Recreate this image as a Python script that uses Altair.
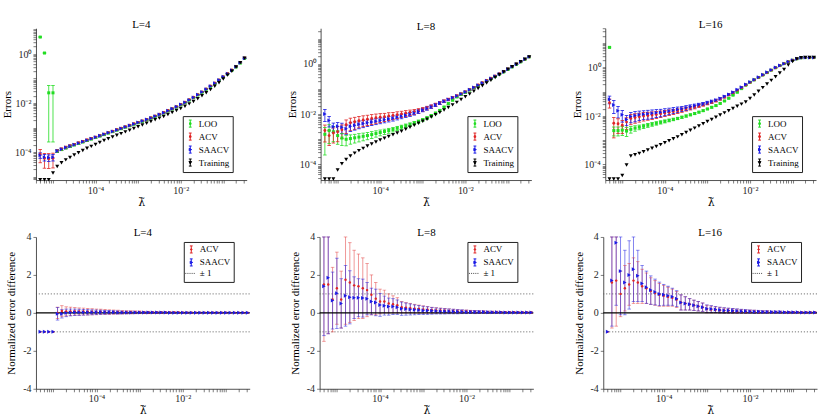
import altair as alt
import pandas as pd

FONT = "Liberation Serif"

# lambda grid (log10 of lambda-tilde)
LAM_EXP = [-5.3, -5.2, -5.1, -5.0, -4.9, -4.8, -4.7, -4.6, -4.5, -4.4,
           -4.3, -4.2, -4.1, -4.0, -3.9, -3.8, -3.7, -3.6, -3.5, -3.4,
           -3.3, -3.2, -3.1, -3.0, -2.9, -2.8, -2.7, -2.6, -2.5, -2.4,
           -2.3, -2.2, -2.1, -2.0, -1.9, -1.8, -1.7, -1.6, -1.5, -1.4,
           -1.3, -1.2, -1.1, -1.0, -0.9, -0.8, -0.7, -0.6, -0.5]

# ---------------- top row: log10(error) ----------------
T4_TRAIN = [-5.12, -5.12, -5.12, -4.84, -4.58, -4.43, -4.31, -4.21, -4.11, -4.02,
            -3.93, -3.84, -3.76, -3.68, -3.60, -3.52, -3.45, -3.38, -3.31, -3.24,
            -3.17, -3.10, -3.03, -2.96, -2.89, -2.82, -2.75, -2.68, -2.61, -2.54,
            -2.46, -2.38, -2.30, -2.22, -2.13, -2.03, -1.93, -1.82, -1.70, -1.58,
            -1.45, -1.31, -1.17, -1.02, -0.86, -0.70, -0.53, -0.35, -0.17]
T4_SAACV = [-4.12, -4.20, -4.22, -4.20, -3.95, -3.88, -3.81, -3.75, -3.69, -3.63,
            -3.57, -3.51, -3.45, -3.39, -3.33, -3.27, -3.21, -3.15, -3.09, -3.03,
            -2.97, -2.91, -2.85, -2.79, -2.73, -2.67, -2.60, -2.53, -2.46, -2.39,
            -2.31, -2.23, -2.15, -2.06, -1.97, -1.87, -1.77, -1.66, -1.55, -1.43,
            -1.31, -1.19, -1.06, -0.93, -0.80, -0.66, -0.52, -0.36, -0.17]
T4_ACV = [-4.08, -4.25, -4.26, -4.24, -3.94, -3.87, -3.80, -3.74, -3.68, -3.62,
          -3.56, -3.50, -3.44, -3.38, -3.32, -3.26, -3.20, -3.14, -3.08, -3.02,
          -2.96, -2.90, -2.84, -2.78, -2.72, -2.66, -2.59, -2.52, -2.45, -2.38,
          -2.30, -2.22, -2.14, -2.05, -1.96, -1.86, -1.76, -1.65, -1.54, -1.42,
          -1.30, -1.18, -1.05, -0.92, -0.79, -0.65, -0.51, -0.35, -0.16]
T4_LOO = [0.69, 0.04, -1.58, -1.58, -3.96, -3.89, -3.82, -3.76, -3.70, -3.64,
          -3.58, -3.52, -3.46, -3.40, -3.34, -3.28, -3.22, -3.16, -3.10, -3.04,
          -2.98, -2.92, -2.86, -2.80, -2.74, -2.68, -2.61, -2.54, -2.47, -2.40,
          -2.32, -2.24, -2.16, -2.07, -1.98, -1.88, -1.78, -1.67, -1.56, -1.44,
          -1.32, -1.20, -1.07, -0.94, -0.81, -0.67, -0.53, -0.37, -0.18]
T4_SAACV_R = [0.25, 0.30, 0.30, 0.30, 0.12, 0.10, 0.10, 0.10, 0.09, 0.09,
              0.08, 0.08, 0.08, 0.08, 0.08, 0.07, 0.07, 0.07, 0.07, 0.07,
              0.06, 0.06, 0.06, 0.06, 0.06, 0.06, 0.05, 0.05, 0.05, 0.05,
              0.05, 0.05, 0.05, 0.05, 0.04, 0.04, 0.04, 0.04, 0.04, 0.04,
              0.04, 0.04, 0.04, 0.03, 0.03, 0.03, 0.03, 0.03, 0.03]
T4_ACV_R = [0.55, 0.60, 0.60, 0.60, 0.14, 0.12, 0.12, 0.11, 0.10, 0.10,
            0.09, 0.09, 0.09, 0.08, 0.08, 0.08, 0.07, 0.07, 0.07, 0.07,
            0.06, 0.06, 0.06, 0.06, 0.06, 0.06, 0.05, 0.05, 0.05, 0.05,
            0.05, 0.05, 0.05, 0.05, 0.04, 0.04, 0.04, 0.04, 0.04, 0.04,
            0.04, 0.04, 0.04, 0.03, 0.03, 0.03, 0.03, 0.03, 0.03]
T4_LOO_R = [0.05, 0.05, 0.99, 0.99, 0.10, 0.09, 0.09, 0.09, 0.08, 0.08,
            0.08, 0.08, 0.07, 0.07, 0.07, 0.07, 0.06, 0.06, 0.06, 0.06,
            0.06, 0.05, 0.05, 0.05, 0.05, 0.05, 0.05, 0.05, 0.04, 0.04,
            0.04, 0.04, 0.04, 0.04, 0.04, 0.04, 0.03, 0.03, 0.03, 0.03,
            0.03, 0.03, 0.03, 0.03, 0.03, 0.03, 0.03, 0.03, 0.03]

T8_TRAIN = [-4.58, -4.58, -4.58, -4.22, -3.97, -3.80, -3.66, -3.55, -3.45, -3.36,
            -3.27, -3.19, -3.11, -3.03, -2.96, -2.89, -2.82, -2.75, -2.68, -2.60,
            -2.52, -2.44, -2.36, -2.28, -2.20, -2.11, -2.02, -1.93, -1.83, -1.73,
            -1.63, -1.53, -1.42, -1.31, -1.20, -1.09, -0.98, -0.87, -0.76, -0.65,
            -0.54, -0.43, -0.32, -0.21, -0.11, -0.01, 0.09, 0.19, 0.28]
T8_SAACV = [-1.99, -2.25, -2.50, -2.48, -2.52, -2.58, -2.48, -2.44, -2.40, -2.37,
            -2.34, -2.31, -2.28, -2.25, -2.22, -2.19, -2.16, -2.12, -2.08, -2.04,
            -2.00, -1.95, -1.89, -1.83, -1.77, -1.70, -1.63, -1.56, -1.49, -1.42,
            -1.35, -1.28, -1.20, -1.12, -1.03, -0.94, -0.85, -0.76, -0.67, -0.58,
            -0.49, -0.40, -0.31, -0.21, -0.11, -0.01, 0.09, 0.19, 0.28]
T8_ACV = [-2.65, -2.85, -2.75, -2.70, -2.62, -2.42, -2.34, -2.30, -2.26, -2.23,
          -2.20, -2.17, -2.14, -2.12, -2.10, -2.07, -2.05, -2.02, -1.99, -1.96,
          -1.93, -1.90, -1.86, -1.81, -1.75, -1.69, -1.62, -1.55, -1.48, -1.41,
          -1.34, -1.27, -1.19, -1.11, -1.02, -0.93, -0.84, -0.75, -0.66, -0.57,
          -0.48, -0.39, -0.30, -0.20, -0.10, 0.00, 0.10, 0.19, 0.28]
T8_LOO = [-2.80, -2.65, -2.70, -2.85, -2.95, -3.00, -2.97, -2.94, -2.91, -2.88,
          -2.85, -2.81, -2.77, -2.73, -2.69, -2.65, -2.61, -2.56, -2.51, -2.46,
          -2.41, -2.35, -2.29, -2.22, -2.15, -2.06, -1.96, -1.85, -1.72, -1.58,
          -1.44, -1.31, -1.21, -1.13, -1.04, -0.95, -0.86, -0.77, -0.68, -0.59,
          -0.50, -0.41, -0.32, -0.22, -0.12, -0.02, 0.08, 0.18, 0.28]
T8_SAACV_R = [0.50, 0.45, 0.40, 0.40, 0.45, 0.40, 0.38, 0.36, 0.34, 0.32,
              0.30, 0.28, 0.27, 0.26, 0.25, 0.24, 0.23, 0.22, 0.21, 0.20,
              0.19, 0.18, 0.17, 0.16, 0.15, 0.14, 0.13, 0.12, 0.11, 0.10,
              0.09, 0.09, 0.08, 0.08, 0.07, 0.07, 0.06, 0.06, 0.05, 0.05,
              0.05, 0.04, 0.04, 0.04, 0.04, 0.03, 0.03, 0.03, 0.03]
T8_ACV_R = [0.65, 0.60, 0.60, 0.60, 0.55, 0.55, 0.52, 0.50, 0.48, 0.46,
            0.44, 0.42, 0.40, 0.38, 0.36, 0.34, 0.32, 0.30, 0.28, 0.26,
            0.24, 0.22, 0.20, 0.18, 0.16, 0.15, 0.14, 0.13, 0.12, 0.11,
            0.10, 0.09, 0.09, 0.08, 0.08, 0.07, 0.07, 0.06, 0.06, 0.05,
            0.05, 0.05, 0.04, 0.04, 0.04, 0.03, 0.03, 0.03, 0.03]
T8_LOO_R = [0.85, 0.70, 0.60, 0.55, 0.50, 0.45, 0.40, 0.38, 0.36, 0.34,
            0.32, 0.30, 0.28, 0.26, 0.24, 0.22, 0.20, 0.19, 0.18, 0.17,
            0.16, 0.15, 0.14, 0.13, 0.12, 0.11, 0.10, 0.10, 0.09, 0.09,
            0.08, 0.08, 0.07, 0.07, 0.06, 0.06, 0.06, 0.05, 0.05, 0.05,
            0.04, 0.04, 0.04, 0.04, 0.03, 0.03, 0.03, 0.03, 0.03]

T16_TRAIN = [-4.60, -4.60, -4.60, -4.45, -4.02, -3.65, -3.60, -3.54, -3.47, -3.40,
             -3.33, -3.26, -3.18, -3.10, -3.02, -2.94, -2.86, -2.77, -2.68, -2.59,
             -2.50, -2.41, -2.32, -2.23, -2.14, -2.05, -1.96, -1.87, -1.78, -1.69,
             -1.60, -1.51, -1.42, -1.28, -1.13, -0.98, -0.83, -0.68, -0.53, -0.38,
             -0.23, -0.08, 0.10, 0.25, 0.35, 0.40, 0.41, 0.41, 0.41]
T16_SAACV = [-1.31, -1.55, -1.78, -1.95, -2.14, -2.02, -1.98, -1.95, -1.93, -1.91,
             -1.89, -1.87, -1.85, -1.82, -1.79, -1.76, -1.73, -1.70, -1.66, -1.62,
             -1.58, -1.54, -1.50, -1.45, -1.40, -1.35, -1.28, -1.20, -1.11, -1.02,
             -0.92, -0.81, -0.70, -0.60, -0.50, -0.40, -0.30, -0.20, -0.10, 0.00,
             0.08, 0.16, 0.24, 0.30, 0.36, 0.40, 0.41, 0.41, 0.41]
T16_ACV = [-1.45, -2.30, -2.32, -2.38, -2.25, -2.10, -2.06, -2.03, -2.00, -1.98,
           -1.96, -1.94, -1.91, -1.88, -1.85, -1.82, -1.79, -1.75, -1.71, -1.67,
           -1.63, -1.58, -1.53, -1.48, -1.43, -1.37, -1.30, -1.22, -1.13, -1.04,
           -0.94, -0.83, -0.72, -0.61, -0.51, -0.41, -0.31, -0.21, -0.11, -0.01,
           0.08, 0.16, 0.24, 0.30, 0.36, 0.40, 0.41, 0.41, 0.41]
T16_LOO = [0.83, -2.60, -2.60, -2.58, -2.62, -2.55, -2.50, -2.46, -2.42, -2.38,
           -2.34, -2.30, -2.26, -2.22, -2.18, -2.14, -2.10, -2.05, -2.00, -1.95,
           -1.90, -1.84, -1.78, -1.71, -1.64, -1.57, -1.48, -1.38, -1.27, -1.14,
           -1.02, -0.87, -0.73, -0.61, -0.51, -0.41, -0.31, -0.21, -0.11, -0.01,
           0.08, 0.16, 0.24, 0.30, 0.36, 0.40, 0.41, 0.41, 0.41]
T16_SAACV_R = [0.35, 0.55, 0.50, 0.50, 0.45, 0.45, 0.45, 0.42, 0.40, 0.40,
               0.38, 0.36, 0.34, 0.32, 0.30, 0.28, 0.26, 0.24, 0.22, 0.20,
               0.18, 0.16, 0.15, 0.14, 0.13, 0.12, 0.11, 0.10, 0.09, 0.08,
               0.08, 0.07, 0.07, 0.06, 0.06, 0.05, 0.05, 0.05, 0.04, 0.04,
               0.04, 0.04, 0.03, 0.03, 0.03, 0.03, 0.03, 0.03, 0.03]
T16_ACV_R = [0.40, 0.75, 0.60, 0.55, 0.50, 0.45, 0.42, 0.40, 0.38, 0.36,
             0.34, 0.32, 0.30, 0.28, 0.26, 0.24, 0.22, 0.20, 0.18, 0.17,
             0.16, 0.15, 0.14, 0.13, 0.12, 0.11, 0.10, 0.09, 0.08, 0.08,
             0.07, 0.07, 0.06, 0.06, 0.05, 0.05, 0.05, 0.04, 0.04, 0.04,
             0.04, 0.03, 0.03, 0.03, 0.03, 0.03, 0.03, 0.03, 0.03]
T16_LOO_R = [0.05, 0.40, 0.40, 0.40, 0.40, 0.30, 0.25, 0.22, 0.20, 0.18,
             0.17, 0.16, 0.15, 0.14, 0.13, 0.12, 0.11, 0.10, 0.10, 0.09,
             0.09, 0.08, 0.08, 0.07, 0.07, 0.06, 0.06, 0.06, 0.05, 0.05,
             0.05, 0.05, 0.04, 0.04, 0.04, 0.04, 0.04, 0.03, 0.03, 0.03,
             0.03, 0.03, 0.03, 0.03, 0.03, 0.03, 0.03, 0.03, 0.03]

# ---------------- bottom row: normalized error difference (mean, half-width) ----------------
B4_ACV_C = [-1.0, -1.0, -1.0, -1.0, 0.00, 0.10, 0.08, 0.08, 0.08, 0.07,
            0.07, 0.06, 0.06, 0.05, 0.05, 0.05, 0.04, 0.04, 0.04, 0.03,
            0.03, 0.03, 0.03, 0.03, 0.02, 0.02, 0.02, 0.02, 0.02, 0.02,
            0.02, 0.02, 0.02, 0.01, 0.01, 0.01, 0.01, 0.01, 0.01, 0.01,
            0.01, 0.01, 0.01, 0.01, 0.01, 0.01, 0.01, 0.01, 0.01]
B4_ACV_H = [0.0, 0.0, 0.0, 0.0, 0.30, 0.28, 0.24, 0.22, 0.20, 0.19,
            0.18, 0.17, 0.16, 0.15, 0.14, 0.13, 0.12, 0.11, 0.10, 0.09,
            0.08, 0.08, 0.07, 0.07, 0.06, 0.06, 0.05, 0.05, 0.05, 0.04,
            0.04, 0.04, 0.03, 0.03, 0.03, 0.03, 0.02, 0.02, 0.02, 0.02,
            0.02, 0.02, 0.02, 0.02, 0.01, 0.01, 0.01, 0.01, 0.01]
B4_SA_C = [-1.0, -1.0, -1.0, -1.0, -0.05, -0.05, 0.00, 0.02, 0.03, 0.03,
           0.03, 0.03, 0.03, 0.03, 0.03, 0.03, 0.03, 0.03, 0.02, 0.02,
           0.02, 0.02, 0.02, 0.02, 0.02, 0.02, 0.02, 0.02, 0.02, 0.02,
           0.01, 0.01, 0.01, 0.01, 0.01, 0.01, 0.01, 0.01, 0.01, 0.01,
           0.01, 0.01, 0.01, 0.01, 0.01, 0.01, 0.01, 0.01, 0.01]
B4_SA_H = [0.0, 0.0, 0.0, 0.0, 0.33, 0.22, 0.20, 0.18, 0.17, 0.16,
           0.15, 0.14, 0.13, 0.12, 0.11, 0.10, 0.09, 0.08, 0.08, 0.07,
           0.07, 0.06, 0.06, 0.05, 0.05, 0.05, 0.04, 0.04, 0.04, 0.04,
           0.03, 0.03, 0.03, 0.03, 0.03, 0.02, 0.02, 0.02, 0.02, 0.02,
           0.02, 0.02, 0.02, 0.02, 0.01, 0.01, 0.01, 0.01, 0.01]

B8_ACV_C = [1.50, 1.50, 0.70, 1.30, 0.70, 1.75, 1.60, 1.45, 1.40, 1.30,
            1.20, 0.95, 0.75, 0.60, 0.60, 0.50, 0.45, 0.40, 0.30, 0.27,
            0.25, 0.22, 0.20, 0.18, 0.16, 0.14, 0.13, 0.12, 0.11, 0.10,
            0.09, 0.08, 0.07, 0.07, 0.06, 0.05, 0.05, 0.05, 0.04, 0.04,
            0.04, 0.03, 0.03, 0.03, 0.03, 0.02, 0.02, 0.02, 0.02]
B8_ACV_H = [3.00, 2.60, 1.70, 1.90, 1.50, 2.35, 2.10, 1.85, 1.70, 1.60,
            1.40, 1.05, 0.85, 0.65, 0.60, 0.50, 0.45, 0.40, 0.30, 0.27,
            0.25, 0.23, 0.21, 0.19, 0.17, 0.15, 0.14, 0.13, 0.12, 0.11,
            0.10, 0.09, 0.08, 0.08, 0.07, 0.07, 0.06, 0.06, 0.05, 0.05,
            0.05, 0.04, 0.04, 0.04, 0.03, 0.03, 0.03, 0.03, 0.03]
B8_SA_C = [1.40, 1.85, 0.65, 1.03, 0.50, 0.90, 0.82, 0.80, 0.80, 0.78,
           0.75, 0.60, 0.55, 0.42, 0.38, 0.33, 0.33, 0.30, 0.22, 0.20,
           0.18, 0.16, 0.15, 0.13, 0.12, 0.11, 0.10, 0.09, 0.08, 0.08,
           0.07, 0.06, 0.06, 0.05, 0.05, 0.04, 0.04, 0.04, 0.03, 0.03,
           0.03, 0.03, 0.02, 0.02, 0.02, 0.02, 0.02, 0.02, 0.02]
B8_SA_H = [2.60, 2.95, 1.50, 1.85, 1.30, 1.60, 1.40, 1.10, 1.00, 1.00,
           0.85, 0.70, 0.70, 0.60, 0.50, 0.45, 0.42, 0.38, 0.35, 0.32,
           0.29, 0.26, 0.24, 0.22, 0.20, 0.18, 0.16, 0.15, 0.14, 0.13,
           0.12, 0.11, 0.10, 0.09, 0.08, 0.08, 0.07, 0.06, 0.06, 0.05,
           0.05, 0.04, 0.04, 0.04, 0.03, 0.03, 0.03, 0.03, 0.03]

B16_ACV_C = [-1.0, 1.60, 1.70, 1.00, 1.30, 1.50, 1.70, 1.60, 1.40, 1.30,
             1.15, 1.05, 0.95, 0.90, 0.85, 0.80, 0.70, 0.55, 0.50, 0.45,
             0.40, 0.35, 0.30, 0.20, 0.18, 0.16, 0.14, 0.12, 0.11, 0.10,
             0.09, 0.08, 0.07, 0.07, 0.06, 0.05, 0.05, 0.05, 0.04, 0.04,
             0.04, 0.03, 0.03, 0.03, 0.03, 0.02, 0.02, 0.02, 0.02]
B16_ACV_H = [0.0, 2.40, 2.40, 1.20, 1.20, 1.10, 1.20, 1.10, 0.90, 0.80,
             0.70, 0.65, 0.60, 0.55, 0.50, 0.45, 0.42, 0.40, 0.35, 0.30,
             0.27, 0.25, 0.22, 0.20, 0.18, 0.16, 0.15, 0.14, 0.13, 0.12,
             0.11, 0.10, 0.09, 0.08, 0.08, 0.07, 0.06, 0.06, 0.05, 0.05,
             0.05, 0.04, 0.04, 0.04, 0.03, 0.03, 0.03, 0.03, 0.03]
B16_SA_C = [-1.0, 1.70, 3.70, 2.20, 1.60, 2.00, 2.30, 1.95, 1.55, 1.35,
            1.20, 1.10, 1.00, 0.95, 0.90, 0.85, 0.75, 0.55, 0.50, 0.45,
            0.40, 0.35, 0.30, 0.22, 0.20, 0.18, 0.15, 0.13, 0.12, 0.11,
            0.10, 0.09, 0.08, 0.07, 0.06, 0.06, 0.05, 0.05, 0.04, 0.04,
            0.04, 0.03, 0.03, 0.03, 0.03, 0.02, 0.02, 0.02, 0.02]
B16_SA_H = [0.0, 2.40, 3.30, 2.30, 1.70, 1.80, 1.70, 1.35, 0.95, 0.85,
            0.75, 0.68, 0.62, 0.55, 0.50, 0.45, 0.42, 0.40, 0.35, 0.30,
            0.27, 0.25, 0.22, 0.20, 0.18, 0.16, 0.15, 0.14, 0.13, 0.12,
            0.11, 0.10, 0.09, 0.08, 0.08, 0.07, 0.06, 0.06, 0.05, 0.05,
            0.05, 0.04, 0.04, 0.04, 0.03, 0.03, 0.03, 0.03, 0.03]

PM_LINES = [1, -1]
ZERO_LINE = [0]

# ---------------- styling ----------------
C_LOO, C_ACV, C_SA, C_TR = "#22dd22", "#e02424", "#1a1ae6", "#000000"
C_ACV_BAR, C_SA_BAR = "rgba(225,50,50,0.5)", "rgba(30,30,225,0.55)"
EB = "M0,-1V1M-0.4,-1H0.4M-0.4,1H0.4"
P_SQ = EB + "M-0.22,-0.22H0.22V0.22H-0.22Z"
P_TR_R = EB + "M-0.3,-0.36L0.4,0L-0.3,0.36Z"
P_TR_D = EB + "M-0.38,-0.3H0.38L0,0.4Z"
P_DOT = "M-1.7,0H-1.4M-1.1,0H-0.8M-0.5,0H-0.2M0.1,0H0.4M0.7,0H1.0"

XDOM = [10 ** -5.4, 10 ** -0.45]


def log_ticks(lo_exp, hi_exp):
    vals = []
    for d in range(-7, 3):
        for m in range(1, 10):
            v = m * 10.0 ** d
            if 10 ** lo_exp <= v <= 10 ** hi_exp:
                vals.append(v)
    return vals


XLAB = ("abs(log(datum.value)/LN10 + 4) < 0.01 ? '10⁻⁴' : "
        "(abs(log(datum.value)/LN10 + 2) < 0.01 ? '10⁻²' : '')")
YLAB = ("abs(log(datum.value)/LN10 + 4) < 0.01 ? '10⁻⁴' : "
        "(abs(log(datum.value)/LN10 + 2) < 0.01 ? '10⁻²' : "
        "(abs(log(datum.value)/LN10) < 0.01 ? '10⁰' : ''))")


def x_enc():
    return alt.X("lam:Q", title="λ̃",
                 scale=alt.Scale(type="log", domain=XDOM, nice=False),
                 axis=alt.Axis(values=log_ticks(-5.4, -0.45), labelExpr=XLAB,
                               labelOverlap=False, labelFlush=False,
                               titleFont="DejaVu Serif", titleFontSize=11,
                               titlePadding=1))


def title_params(t):
    return alt.TitleParams(t, font=FONT, fontSize=11, fontWeight="normal",
                           offset=-6, anchor="middle", color="black")


def legend(x, y):
    return alt.Legend(title=None, orient="none", legendX=x, legendY=y,
                      strokeColor="#222222", fillColor="white", padding=3,
                      labelFont=FONT, labelFontSize=9, labelColor="black",
                      symbolSize=50, symbolStrokeWidth=1, rowPadding=0,
                      labelOffset=4, symbolOpacity=1)


def top_panel(title, loo, loo_r, acv, acv_r, sa, sa_r, tr, yexp):
    ymin, ymax = 10 ** yexp[0], 10 ** yexp[1]
    specs = [("LOO", loo, loo_r, C_LOO, "square", 9),
             ("ACV", acv, acv_r, C_ACV, "circle", 8),
             ("SAACV", sa, sa_r, C_SA, "triangle-right", 16),
             ("Training", tr, None, C_TR, "triangle-down", 16)]
    rows, brows = [], []
    for name, cl, rl, col, shp, sz in specs:
        for k, e in enumerate(LAM_EXP):
            c = 10 ** cl[k]
            cc = min(max(c, ymin), ymax)
            rows.append(dict(lam=10 ** e, series=name, c=cc, col=col, shp=shp, sz=sz))
            if rl is not None:
                lo = max(c * (1 - rl[k]), ymin)
                hi = min(c * (1 + rl[k]), ymax)
                brows.append(dict(lam=10 ** e, lo=lo, hi=hi, col=col))
    df = pd.DataFrame(rows)
    dfb = pd.DataFrame(brows)
    ysc = alt.Scale(type="log", domain=[ymin, ymax], nice=False)
    yax = alt.Axis(values=log_ticks(yexp[0], yexp[1]), labelExpr=YLAB,
                   labelOverlap=False, minExtent=21, maxExtent=21, titlePadding=2)

    def Y(f):
        return alt.Y(f + ":Q", scale=ysc, axis=yax, title="Errors")

    bars = alt.Chart(dfb).mark_rule(strokeWidth=0.8).encode(
        x=x_enc(), y=Y("lo"), y2=alt.Y2("hi"), stroke=alt.Stroke("col:N", scale=None))
    cap_lo = alt.Chart(dfb).mark_tick(orient="horizontal", size=3.5, thickness=0.8, opacity=1).encode(
        x=x_enc(), y=Y("lo"), color=alt.Color("col:N", scale=None))
    cap_hi = alt.Chart(dfb).mark_tick(orient="horizontal", size=3.5, thickness=0.8, opacity=1).encode(
        x=x_enc(), y=Y("hi"), color=alt.Color("col:N", scale=None))
    pts = alt.Chart(df).mark_point(filled=True, opacity=1).encode(
        x=x_enc(), y=Y("c"), fill=alt.Fill("col:N", scale=None),
        shape=alt.Shape("shp:N", scale=None), size=alt.Size("sz:Q", scale=None))
    names = ["LOO", "ACV", "SAACV", "Training"]
    cols = [C_LOO, C_ACV, C_SA, C_TR]
    paths = [P_SQ, P_SQ, P_TR_R, P_TR_D]
    lg = legend(147, 88)
    leg = alt.Chart(df).transform_filter("false").mark_point(filled=True, opacity=1).encode(
        x=x_enc(), y=Y("c"),
        fill=alt.Fill("series:N", scale=alt.Scale(domain=names, range=cols), legend=lg),
        stroke=alt.Stroke("series:N", scale=alt.Scale(domain=names, range=cols), legend=lg),
        shape=alt.Shape("series:N", scale=alt.Scale(domain=names, range=paths), legend=lg))
    return alt.layer(bars, cap_lo, cap_hi, pts, leg).properties(
        width=211, height=152, title=title_params(title))


def bottom_panel(title, acv_c, acv_h, sa_c, sa_h):
    specs = [("ACV", acv_c, acv_h, C_ACV, C_ACV_BAR, "circle", 6),
             ("SAACV", sa_c, sa_h, C_SA, C_SA_BAR, "triangle-right", 16)]
    rows, brows = [], []
    for name, cl, hl, col, bcol, shp, sz in specs:
        for k, e in enumerate(LAM_EXP):
            rows.append(dict(lam=10 ** e, series=name, c=cl[k], col=col, shp=shp, sz=sz))
            if hl[k] > 0:
                brows.append(dict(lam=10 ** e, lo=max(cl[k] - hl[k], -4),
                                  hi=min(cl[k] + hl[k], 4), col=bcol))
    df = pd.DataFrame(rows)
    dfb = pd.DataFrame(brows)
    ysc = alt.Scale(domain=[-4, 4], nice=False, zero=False)
    yax = alt.Axis(values=[-4, -2, 0, 2, 4], labelExpr="'' + datum.value",
                   minExtent=15, maxExtent=15, titlePadding=4)

    def Y(f):
        return alt.Y(f + ":Q", scale=ysc, axis=yax, title="Normalized error difference")

    pm = alt.Chart(pd.DataFrame({"v": PM_LINES})).mark_rule(
        color="#555555", strokeDash=[1.2, 1.8], strokeWidth=0.8).encode(y=Y("v"))
    zero = alt.Chart(pd.DataFrame({"v": ZERO_LINE})).mark_rule(
        color="black", strokeWidth=1.1).encode(y=Y("v"))
    bars = alt.Chart(dfb).mark_rule(strokeWidth=1).encode(
        x=x_enc(), y=Y("lo"), y2=alt.Y2("hi"), stroke=alt.Stroke("col:N", scale=None))
    cap_lo = alt.Chart(dfb).mark_tick(orient="horizontal", size=3.5, thickness=0.9, opacity=1).encode(
        x=x_enc(), y=Y("lo"), color=alt.Color("col:N", scale=None))
    cap_hi = alt.Chart(dfb).mark_tick(orient="horizontal", size=3.5, thickness=0.9, opacity=1).encode(
        x=x_enc(), y=Y("hi"), color=alt.Color("col:N", scale=None))
    pts = alt.Chart(df).mark_point(filled=True, opacity=1).encode(
        x=x_enc(), y=Y("c"), fill=alt.Fill("col:N", scale=None),
        shape=alt.Shape("shp:N", scale=None), size=alt.Size("sz:Q", scale=None))
    names = ["ACV", "SAACV", "± 1"]
    cols = [C_ACV, C_SA, "#555555"]
    paths = [EB + "M0.22,0A0.22,0.22 0 1,1 -0.22,0A0.22,0.22 0 1,1 0.22,0Z", P_TR_R, P_DOT]
    lg = legend(148, 5)
    leg = alt.Chart(df).transform_filter("false").mark_point(filled=True, opacity=1).encode(
        x=x_enc(), y=Y("c"),
        fill=alt.Fill("series:N", scale=alt.Scale(domain=names, range=cols), legend=lg),
        stroke=alt.Stroke("series:N", scale=alt.Scale(domain=names, range=cols), legend=lg),
        shape=alt.Shape("series:N", scale=alt.Scale(domain=names, range=paths), legend=lg))
    return alt.layer(pm, bars, cap_lo, cap_hi, zero, pts, leg).properties(
        width=214, height=152, title=title_params(title))


IND = dict(fill="independent", stroke="independent", shape="independent")

row1 = alt.hconcat(
    top_panel("L=4", T4_LOO, T4_LOO_R, T4_ACV, T4_ACV_R, T4_SAACV, T4_SAACV_R, T4_TRAIN, (-5.13, 1.05)),
    top_panel("L=8", T8_LOO, T8_LOO_R, T8_ACV, T8_ACV_R, T8_SAACV, T8_SAACV_R, T8_TRAIN, (-4.62, 1.42)),
    top_panel("L=16", T16_LOO, T16_LOO_R, T16_ACV, T16_ACV_R, T16_SAACV, T16_SAACV_R, T16_TRAIN, (-4.64, 1.62)),
    spacing=40).resolve_scale(**IND)

row2 = alt.hconcat(
    bottom_panel("L=4", B4_ACV_C, B4_ACV_H, B4_SA_C, B4_SA_H),
    bottom_panel("L=8", B8_ACV_C, B8_ACV_H, B8_SA_C, B8_SA_H),
    bottom_panel("L=16", B16_ACV_C, B16_ACV_H, B16_SA_C, B16_SA_H),
    spacing=39).resolve_scale(**IND)

chart = alt.vconcat(row1, row2, spacing=20).resolve_scale(**IND).properties(
    padding={"left": 2, "top": 18, "right": 2, "bottom": 2}
).configure(font=FONT, background="white").configure_view(stroke=None).configure_axis(
    labelFont=FONT, titleFont=FONT, labelFontSize=10, titleFontSize=11,
    titleFontWeight="normal", labelColor="#262626", titleColor="black",
    domainColor="#262626", tickColor="#262626", domainWidth=0.8, tickWidth=0.6,
    tickSize=3, labelPadding=2, grid=False)

chart.save("out.html", embed_options={"renderer": "svg", "actions": False})
